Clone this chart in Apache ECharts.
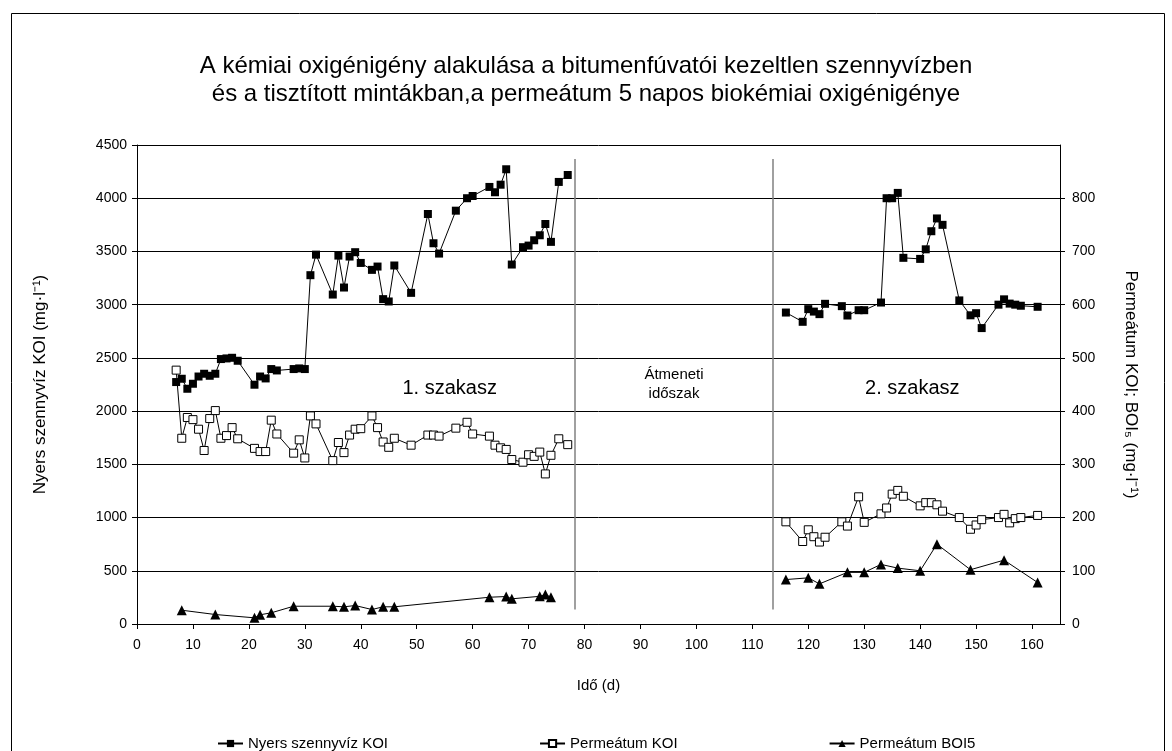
<!DOCTYPE html>
<html>
<head>
<meta charset="utf-8">
<script src="https://cdn.jsdelivr.net/npm/echarts@6/dist/echarts.min.js"></script>
<style>html,body{margin:0;padding:0;background:#fff}#c{width:1172px;height:751px}</style>
</head>
<body>
<div id="c"></div>
<script>
// ---- data ----
const titleLines = ['A kémiai oxigénigény alakulása a bitumenfúvatói kezeltlen szennyvízben', 'és a tisztított mintákban,a permeátum 5 napos biokémiai oxigénigénye'];
const seriesNames = ['Nyers szennyvíz KOI', 'Permeátum KOI', 'Permeátum BOI5'];

const koiDays1 = [7,8,9,10,11,12,13,14,15,16,17,18,21,22,23,24,25,28,29,30,31,32,35,36,37,38,39,40,42,43,44,45,46,49,52,53,54,57,59,60,63,64,65,66,67,69,70,71,72,73,74,75.4,77];
const nyersKOI1 = [2273,2304,2210,2257,2325,2351,2332,2351,2489,2495,2501,2473,2248,2325,2307,2395,2382,2395,2401,2395,3277,3470,3095,3461,3161,3452,3493,3392,3327,3358,3052,3030,3368,3111,3852,3577,3480,3883,4000,4021,4106,4056,4127,4272,3377,3540,3555,3605,3652,3758,3590,4153,4218];
const permKOI1 = [477,349,388,384,366,326,386,401,349,354,369,348,330,324,324,383,357,321,346,312,391,376,307,341,322,355,366,367,391,369,342,332,349,336,355,355,353,368,379,357,353,336,331,328,309,304,318,315,323,282,317,348,337];

const koiDays2 = [116,119,120,121,122,123,126,127,129,130,133,134,135,136,137,140,141,142,143,144,147,149,150,151,154,155,156,157,158,161];
const nyersKOI2 = [2926,2839,2958,2935,2911,3008,2986,2898,2948,2948,3020,4000,4000,4050,3440,3430,3520,3690,3810,3750,3040,2900,2920,2780,3000,3050,3010,3000,2990,2980];
const permKOI2 = [192,155,177,164,154,163,192,184,239,191,207,218,244,251,240,222,228,228,224,212,200,178,186,196,200,206,190,198,200,204];

const boiDays1 = [8,14,21,22,24,28,35,37,39,42,44,46,63,66,67,72,73,74];
const boi1 = [25.9,17.8,11.6,17.3,21,33.4,33.4,32.3,34.7,27.2,32.3,32.3,50.3,51.6,47.3,52,55.4,50.3];
const boiDays2 = [116,120,122,127,130,133,136,140,143,149,155,161];
const boi2 = [83.5,86.7,75.4,97,97,112,105,100,150,102,120,78];

const phaseLines = [78.3, 113.7];
const phaseLineSpan = [136, 4368];
const annotations = [
  {x: 55.9, y: 2210, text: '1. szakasz', size: 20},
  {x: 96, y: 2340, text: 'Átmeneti', size: 15},
  {x: 96, y: 2160, text: 'időszak', size: 15},
  {x: 138.6, y: 2210, text: '2. szakasz', size: 20}
];

function pairs(days, vals) { return days.map((d, i) => [d, vals[i]]); }
function joined(d1, v1, d2, v2) { return pairs(d1, v1).concat([[null, '-']]).concat(pairs(d2, v2)); }

const FONT = '"Liberation Sans", Arial, sans-serif';
const chart = echarts.init(document.getElementById('c'), null, {renderer: 'canvas'});

const option = {
  backgroundColor: '#fff',
  animation: false,
  textStyle: {fontFamily: FONT, color: '#000'},
  title: {
    text: titleLines.join('\n'),
    left: 'center',
    top: 47,
    textStyle: {fontFamily: FONT, fontSize: 24, fontWeight: 'normal', color: '#000', lineHeight: 28}
  },
  legend: {
    top: 731,
    left: 212,
    itemGap: 151,
    itemWidth: 25,
    itemHeight: 9,
    textStyle: {fontFamily: FONT, fontSize: 15, color: '#000'},
    data: seriesNames
  },
  grid: {left: 137, right: 112, top: 145, bottom: 127, containLabel: false},
  xAxis: {
    type: 'value', min: 0, max: 165, interval: 10,
    name: 'Idő (d)', nameLocation: 'middle', nameGap: 54,
    nameTextStyle: {fontFamily: FONT, fontSize: 15, color: '#000'},
    axisLine: {lineStyle: {color: '#000', width: 1}},
    axisTick: {length: 5, lineStyle: {color: '#000'}},
    axisLabel: {fontFamily: FONT, fontSize: 14, color: '#000', margin: 14, showMaxLabel: false},
    splitLine: {show: false}
  },
  yAxis: [{
    type: 'value', min: 0, max: 4500, interval: 500,
    name: 'Nyers szennyvíz KOI (mg·l⁻¹)', nameLocation: 'middle', nameGap: 88,
    nameTextStyle: {fontFamily: FONT, fontSize: 17, color: '#000'},
    axisLine: {show: true, lineStyle: {color: '#000', width: 1}},
    axisTick: {show: true, length: 5, lineStyle: {color: '#000'}},
    axisLabel: {fontFamily: FONT, fontSize: 14, color: '#000', margin: 10, formatter: v => String(v)},
    splitLine: {show: true, lineStyle: {color: '#000', width: 1}}
  }, {
    type: 'value', min: 0, max: 900, interval: 100,
    position: 'right',
    name: 'Permeátum KOI; BOI₅ (mg·l⁻¹)', nameLocation: 'middle', nameGap: 62, nameRotate: -90,
    nameTextStyle: {fontFamily: FONT, fontSize: 17, color: '#000'},
    axisLine: {show: true, lineStyle: {color: '#000', width: 1}},
    axisTick: {show: true, length: 5, lineStyle: {color: '#000'}},
    axisLabel: {fontFamily: FONT, fontSize: 14, color: '#000', margin: 12, showMaxLabel: false, formatter: v => String(v)},
    splitLine: {show: false}
  }],
  series: [{
    name: seriesNames[0], type: 'line', yAxisIndex: 0,
    data: joined(koiDays1, nyersKOI1, koiDays2, nyersKOI2),
    symbol: 'rect', symbolSize: 8, connectNulls: false,
    lineStyle: {color: '#000', width: 1},
    itemStyle: {color: '#000', borderColor: '#000', borderWidth: 0},
    z: 5,
    markLine: {
      silent: true, symbol: 'none', label: {show: false},
      lineStyle: {color: '#808080', width: 1.5, type: 'solid'},
      data: phaseLines.map(x => [{coord: [x, phaseLineSpan[0]]}, {coord: [x, phaseLineSpan[1]]}])
    }
  }, {
    name: seriesNames[1], type: 'line', yAxisIndex: 1,
    data: joined(koiDays1, permKOI1, koiDays2, permKOI2),
    symbol: 'rect', symbolSize: 8, connectNulls: false,
    lineStyle: {color: '#000', width: 1},
    itemStyle: {color: '#fff', borderColor: '#000', borderWidth: 1},
    z: 4
  }, {
    name: seriesNames[2], type: 'line', yAxisIndex: 1,
    data: joined(boiDays1, boi1, boiDays2, boi2),
    symbol: 'triangle', symbolSize: 10, connectNulls: false,
    lineStyle: {color: '#000', width: 1},
    itemStyle: {color: '#000', borderColor: '#000', borderWidth: 0},
    z: 3
  }]
};
chart.setOption(option);

// annotations placed through the axes
const g = [{
  type: 'rect', left: 9, top: 11, silent: true,
  shape: {width: 1153, height: 760},
  style: {fill: 'none', stroke: '#000', lineWidth: 1}, z: -1
}];
annotations.forEach(a => {
  const p = chart.convertToPixel({gridIndex: 0}, [a.x, a.y]);
  g.push({
    type: 'text', x: p[0], y: p[1], silent: true,
    style: {text: a.text, fontFamily: FONT, fontSize: a.size, fill: '#000', textAlign: 'center', textVerticalAlign: 'middle'}
  });
});
chart.setOption({graphic: g});
</script>
</body>
</html>
